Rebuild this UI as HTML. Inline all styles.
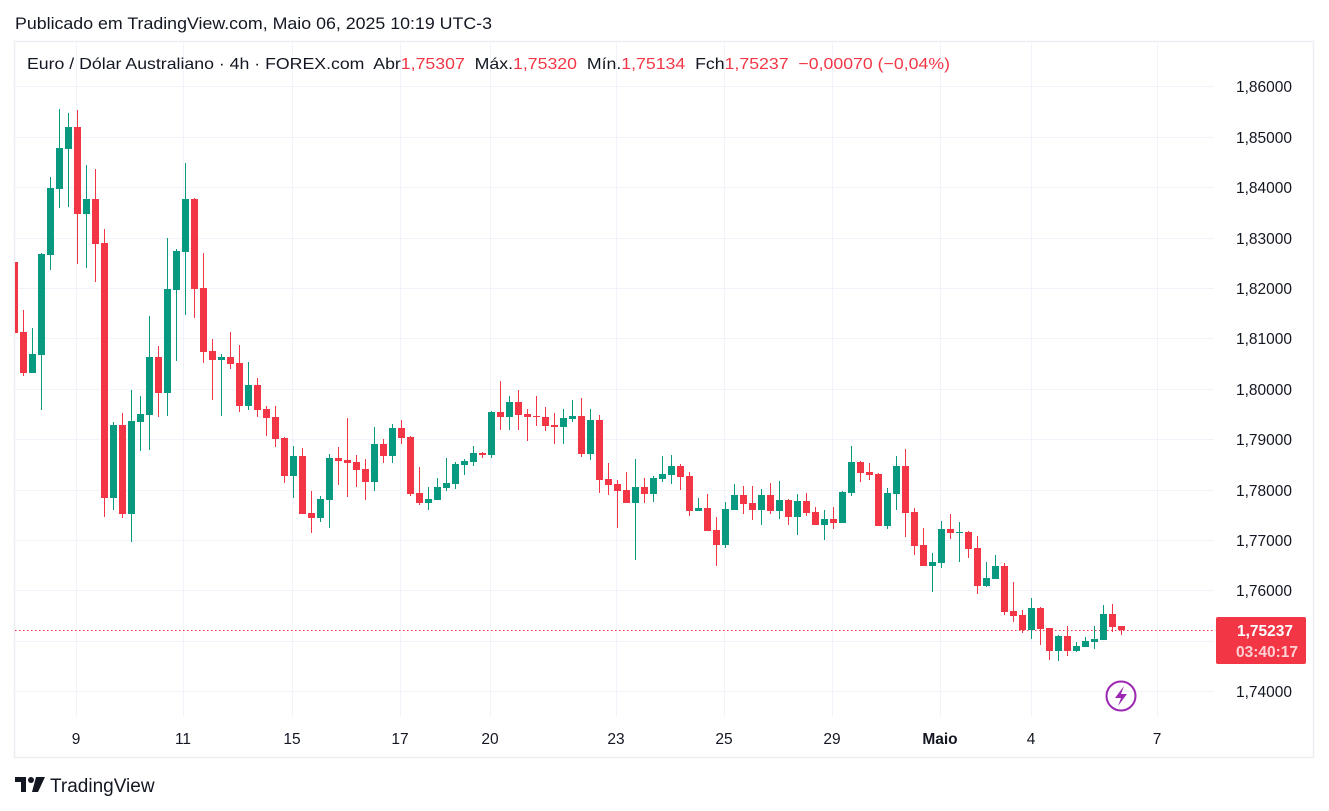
<!DOCTYPE html>
<html><head><meta charset="utf-8"><style>
html,body{margin:0;padding:0;background:#fff;}
body{width:1329px;height:811px;overflow:hidden;position:relative;font-family:"Liberation Sans","DejaVu Sans",sans-serif;color:#131722;}
</style></head><body>
<svg width="1329" height="811" viewBox="0 0 1329 811" xmlns="http://www.w3.org/2000/svg" style="position:absolute;left:0;top:0">
<text x="15" y="29" font-size="17" fill="#131722" textLength="477" lengthAdjust="spacingAndGlyphs">Publicado em TradingView.com, Maio 06, 2025 10:19 UTC-3</text>
<rect x="14.5" y="41.5" width="1299" height="716" fill="#fff" stroke="#eceef2" stroke-width="1.5"/>
<g stroke="#f0f3fa" stroke-width="1">
<path d="M15 86.5H1214M15 137.5H1214M15 187.5H1214M15 238.5H1214M15 288.5H1214M15 338.5H1214M15 389.5H1214M15 439.5H1214M15 490.5H1214M15 540.5H1214M15 590.5H1214M15 641.5H1214M15 691.5H1214"/>
<path d="M76.5 42V716M183.5 42V716M292.5 42V716M400.5 42V716M490.5 42V716M616.5 42V716M724.5 42V716M832.5 42V716M940.5 42V716M1031.5 42V716M1157.5 42V716"/>
</g>
<text x="27" y="69" font-size="16" fill="#131722" xml:space="preserve" textLength="923" lengthAdjust="spacingAndGlyphs">Euro / Dólar Australiano · 4h · FOREX.com  Abr<tspan fill="#f23645">1,75307</tspan>  Máx.<tspan fill="#f23645">1,75320</tspan>  Mín.<tspan fill="#f23645">1,75134</tspan>  Fch<tspan fill="#f23645">1,75237</tspan>  <tspan fill="#f23645">−0,00070 (−0,04%)</tspan></text>
<line x1="15" y1="630.5" x2="1214" y2="630.5" stroke="#f23645" stroke-width="1" stroke-dasharray="1.5,2.5"/>
<clipPath id="c"><rect x="15" y="42" width="1199" height="674"/></clipPath>
<g clip-path="url(#c)">
<path stroke="#f23645" stroke-width="1" fill="none" d="M23.5 310V376M77.5 110V264M95.5 169V282M104.5 229V517M122.5 413V518M158.5 346V417M194.5 198V318M203.5 253V363M212.5 339V400M230.5 332V369M239.5 345V412M257.5 378V417M266.5 406V436M275.5 406V447M284.5 437V483M302.5 448V514M311.5 491V533M338.5 447V485M347.5 418V497M356.5 455V487M365.5 459V500M383.5 439V463M401.5 420V444M410.5 436V496M419.5 467V505M482.5 452V458M500.5 381V430M518.5 390V430M527.5 409V441M536.5 396V426M545.5 407V431M554.5 413V444M581.5 398V457M599.5 415V493M608.5 463V495M617.5 480V528M626.5 472V503M644.5 478V503M680.5 464V490M689.5 472V516M707.5 494V531M716.5 517V566M743.5 486V514M752.5 486V520M770.5 483V514M788.5 499V525M806.5 493V516M815.5 507V525M833.5 507V529M860.5 461V482M869.5 463V480M878.5 473V526M905.5 449V537M914.5 508V555M923.5 528V566M950.5 514V539M968.5 531V558M977.5 536V594M1004.5 563V615M1013.5 582V622M1022.5 610V633M1040.5 607V645M1049.5 628V660M1067.5 626V656M1112.5 604V632M1121.5 626V635"/>
<path stroke="#089981" stroke-width="1" fill="none" d="M32.5 328V373M41.5 253V410M50.5 177V270M59.5 109V208M68.5 113V207M86.5 165V268M113.5 422V510M131.5 390V542M140.5 396V451M149.5 316V450M167.5 238V416M176.5 249V361M185.5 163V315M221.5 354V416M248.5 362V410M293.5 446V498M320.5 496V522M329.5 454V528M374.5 427V491M392.5 424V463M428.5 487V510M437.5 478V500M446.5 458V491M455.5 462V489M464.5 459V475M473.5 446V466M491.5 411V458M509.5 396V430M563.5 409V444M572.5 400V422M590.5 409V460M635.5 459V560M653.5 476V502M662.5 456V482M671.5 455V484M698.5 498V511M725.5 502V548M734.5 484V510M761.5 489V525M779.5 481V519M797.5 494V535M824.5 510V540M842.5 491V523M851.5 446V496M887.5 488V529M896.5 456V510M932.5 553V592M941.5 521V568M959.5 522V562M986.5 562V587M995.5 555V579M1031.5 598V639M1058.5 635V661M1076.5 642V652M1085.5 637V647M1094.5 626V649M1103.5 605V640"/>
<g fill="#f23645">
<rect x="11" y="262" width="7" height="71"/><rect x="20" y="332" width="7" height="41"/><rect x="74" y="127" width="7" height="87"/><rect x="92" y="199" width="7" height="45"/><rect x="101" y="243" width="7" height="255"/><rect x="119" y="425" width="7" height="89"/><rect x="155" y="357" width="7" height="36"/><rect x="191" y="199" width="7" height="90"/><rect x="200" y="288" width="7" height="64"/><rect x="209" y="351" width="7" height="9"/><rect x="227" y="357" width="7" height="7"/><rect x="236" y="363" width="7" height="43"/><rect x="254" y="385" width="7" height="25"/><rect x="263" y="409" width="7" height="9"/><rect x="272" y="417" width="7" height="22"/><rect x="281" y="438" width="7" height="38"/><rect x="299" y="456" width="7" height="58"/><rect x="308" y="513" width="7" height="5"/><rect x="335" y="458" width="7" height="3"/><rect x="344" y="460" width="7" height="3"/><rect x="353" y="462" width="7" height="8"/><rect x="362" y="469" width="7" height="13"/><rect x="380" y="444" width="7" height="12"/><rect x="398" y="428" width="7" height="10"/><rect x="407" y="437" width="7" height="57"/><rect x="416" y="493" width="7" height="10"/><rect x="479" y="453" width="7" height="2"/><rect x="497" y="412" width="7" height="5"/><rect x="515" y="402" width="7" height="13"/><rect x="524" y="414" width="7" height="3"/><rect x="533" y="416" width="7" height="1"/><rect x="542" y="417" width="7" height="9"/><rect x="551" y="425" width="7" height="2"/><rect x="578" y="416" width="7" height="38"/><rect x="596" y="420" width="7" height="60"/><rect x="605" y="479" width="7" height="6"/><rect x="614" y="484" width="7" height="7"/><rect x="623" y="490" width="7" height="13"/><rect x="641" y="487" width="7" height="7"/><rect x="677" y="466" width="7" height="11"/><rect x="686" y="476" width="7" height="35"/><rect x="704" y="508" width="7" height="23"/><rect x="713" y="530" width="7" height="15"/><rect x="740" y="495" width="7" height="9"/><rect x="749" y="503" width="7" height="7"/><rect x="767" y="495" width="7" height="16"/><rect x="785" y="500" width="7" height="17"/><rect x="803" y="501" width="7" height="12"/><rect x="812" y="512" width="7" height="13"/><rect x="830" y="519" width="7" height="4"/><rect x="857" y="462" width="7" height="11"/><rect x="866" y="472" width="7" height="3"/><rect x="875" y="474" width="7" height="52"/><rect x="902" y="466" width="7" height="47"/><rect x="911" y="512" width="7" height="34"/><rect x="920" y="545" width="7" height="21"/><rect x="947" y="529" width="7" height="4"/><rect x="965" y="532" width="7" height="17"/><rect x="974" y="548" width="7" height="38"/><rect x="1001" y="566" width="7" height="46"/><rect x="1010" y="611" width="7" height="5"/><rect x="1019" y="615" width="7" height="15"/><rect x="1037" y="608" width="7" height="21"/><rect x="1046" y="628" width="7" height="23"/><rect x="1064" y="636" width="7" height="15"/><rect x="1109" y="614" width="7" height="13"/><rect x="1118" y="626" width="7" height="4"/>
</g>
<g fill="#089981">
<rect x="29" y="354" width="7" height="19"/><rect x="38" y="254" width="7" height="101"/><rect x="47" y="188" width="7" height="67"/><rect x="56" y="148" width="7" height="41"/><rect x="65" y="127" width="7" height="22"/><rect x="83" y="199" width="7" height="15"/><rect x="110" y="425" width="7" height="73"/><rect x="128" y="421" width="7" height="93"/><rect x="137" y="414" width="7" height="8"/><rect x="146" y="357" width="7" height="58"/><rect x="164" y="289" width="7" height="104"/><rect x="173" y="251" width="7" height="39"/><rect x="182" y="199" width="7" height="53"/><rect x="218" y="357" width="7" height="3"/><rect x="245" y="385" width="7" height="21"/><rect x="290" y="456" width="7" height="20"/><rect x="317" y="499" width="7" height="19"/><rect x="326" y="458" width="7" height="42"/><rect x="371" y="444" width="7" height="38"/><rect x="389" y="428" width="7" height="28"/><rect x="425" y="499" width="7" height="4"/><rect x="434" y="487" width="7" height="13"/><rect x="443" y="483" width="7" height="5"/><rect x="452" y="464" width="7" height="20"/><rect x="461" y="461" width="7" height="4"/><rect x="470" y="453" width="7" height="9"/><rect x="488" y="412" width="7" height="43"/><rect x="506" y="402" width="7" height="15"/><rect x="560" y="418" width="7" height="9"/><rect x="569" y="416" width="7" height="3"/><rect x="587" y="420" width="7" height="34"/><rect x="632" y="487" width="7" height="16"/><rect x="650" y="478" width="7" height="16"/><rect x="659" y="474" width="7" height="5"/><rect x="668" y="466" width="7" height="9"/><rect x="695" y="508" width="7" height="3"/><rect x="722" y="509" width="7" height="36"/><rect x="731" y="495" width="7" height="15"/><rect x="758" y="495" width="7" height="15"/><rect x="776" y="500" width="7" height="11"/><rect x="794" y="501" width="7" height="16"/><rect x="821" y="519" width="7" height="6"/><rect x="839" y="492" width="7" height="31"/><rect x="848" y="462" width="7" height="31"/><rect x="884" y="493" width="7" height="33"/><rect x="893" y="466" width="7" height="28"/><rect x="929" y="562" width="7" height="4"/><rect x="938" y="529" width="7" height="34"/><rect x="956" y="532" width="7" height="1"/><rect x="983" y="578" width="7" height="8"/><rect x="992" y="566" width="7" height="13"/><rect x="1028" y="608" width="7" height="22"/><rect x="1055" y="636" width="7" height="15"/><rect x="1073" y="646" width="7" height="5"/><rect x="1082" y="641" width="7" height="6"/><rect x="1091" y="639" width="7" height="3"/><rect x="1100" y="614" width="7" height="26"/>
</g>
</g>
<g font-size="15.5" fill="#131722" text-anchor="end">
<text x="1292" y="92">1,86000</text><text x="1292" y="143">1,85000</text><text x="1292" y="193">1,84000</text><text x="1292" y="244">1,83000</text><text x="1292" y="294">1,82000</text><text x="1292" y="344">1,81000</text><text x="1292" y="395">1,80000</text><text x="1292" y="445">1,79000</text><text x="1292" y="496">1,78000</text><text x="1292" y="546">1,77000</text><text x="1292" y="596">1,76000</text><text x="1292" y="697">1,74000</text>
</g>
<rect x="1216" y="617" width="90" height="47" rx="2" fill="#f23645"/>
<text x="1293" y="636" font-size="15.5" font-weight="bold" fill="#fff" text-anchor="end">1,75237</text>
<text x="1298" y="657" font-size="15.5" font-weight="bold" fill="#ffd0d4" text-anchor="end">03:40:17</text>
<circle cx="1121" cy="696" r="14.5" fill="none" stroke="#9c27b0" stroke-width="2"/>
<path d="M1124 686 L1115 698 L1121 698 L1118 706 L1127 694 L1121 694 Z" fill="#9c27b0"/>
<g font-size="15.5" fill="#131722" text-anchor="middle">
<text x="76" y="744">9</text><text x="183" y="744">11</text><text x="292" y="744">15</text><text x="400" y="744">17</text><text x="490" y="744">20</text><text x="616" y="744">23</text><text x="724" y="744">25</text><text x="832" y="744">29</text><text x="940" y="744" font-weight="bold">Maio</text><text x="1031" y="744">4</text><text x="1157" y="744">7</text>
</g>
<g fill="#131722">
<path d="M15 777h11v15h-5v-10h-6z"/><circle cx="31" cy="780" r="3"/><path d="M36 777h9l-7 15h-6z"/>
</g>
<text x="50" y="792" font-size="19" fill="#131722">TradingView</text>
</svg>
</body></html>
